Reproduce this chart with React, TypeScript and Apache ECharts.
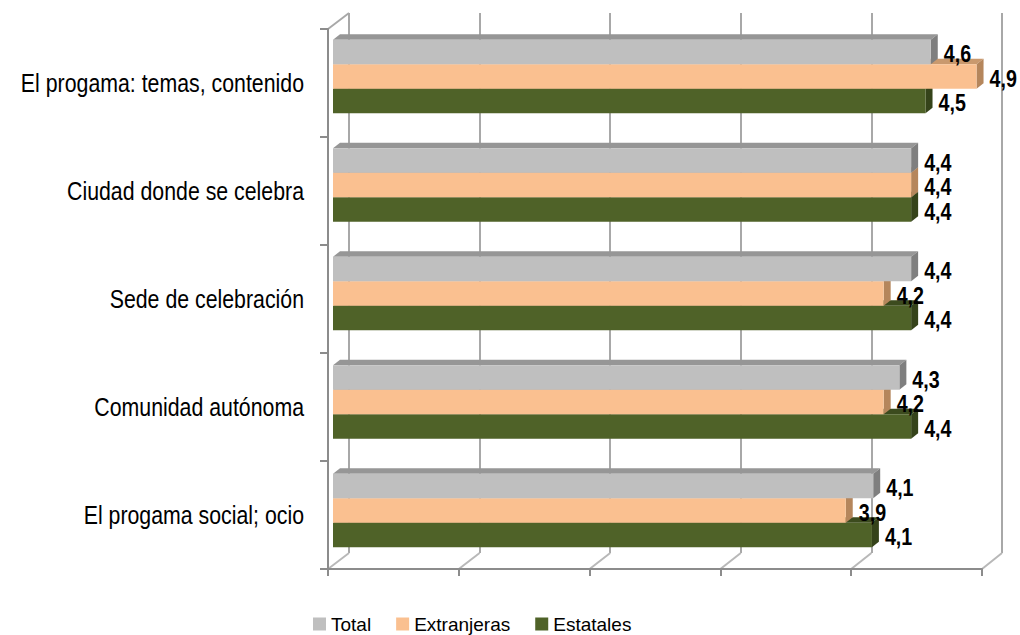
import React, { useEffect, useRef } from "react";
import * as echarts from "echarts";

const categories = [
  "El progama: temas, contenido",
  "Ciudad donde se celebra",
  "Sede de celebración",
  "Comunidad autónoma",
  "El progama social; ocio",
];
const seriesNames = ["Total", "Extranjeras", "Estatales"];
const totalValues = [4.57, 4.42, 4.42, 4.33, 4.13];
const extranjerasValues = [4.92, 4.42, 4.21, 4.21, 3.92];
const estatalesValues = [4.53, 4.42, 4.42, 4.42, 4.12];
const axisMin = 0;
const axisMax = 5;
const axisInterval = 1;

const FONT = "'Liberation Sans', Arial, sans-serif";
const CONDENSE = 0.82;

const COLORS = [
  { front: "#BFBFBF", top: "#969696", side: "#7F7F7F" },
  { front: "#FAC090", top: "#C9996E", side: "#B5865C" },
  { front: "#4F6228", top: "#3C4B1E", side: "#35431A" },
];

const DX = 7;
const DY = -5.5;
const BAR_FRAC = 0.2258;
const LABEL_GAP = 6;

const GRID_BARS = { left: 333, top: 22.25, width: 654, height: 542.5 };
const GRID_FRONT = { left: 328, top: 29, width: 654, height: 540 };
const GRID_BACK = { left: 349, top: 13, width: 653, height: 540 };

const fmt = (v: number) => v.toFixed(1).replace(".", ",");

function barRenderer(pos: number) {
  const c = COLORS[pos];
  return (params: any, api: any) => {
    const v = api.value(0);
    const cat = api.value(1);
    const p0 = api.coord([0, cat]);
    const p1 = api.coord([v, cat]);
    const band = api.size([0, 1])[1];
    const bh = band * BAR_FRAC;
    const top = p0[1] - 1.5 * bh + pos * bh;
    const x0 = p0[0];
    const x1 = p1[0];
    return {
      type: "group",
      children: [
        {
          type: "polygon",
          shape: { points: [[x0, top], [x0 + DX, top + DY], [x1 + DX, top + DY], [x1, top]] },
          style: { fill: c.top },
        },
        {
          type: "polygon",
          shape: { points: [[x1, top], [x1 + DX, top + DY], [x1 + DX, top + DY + bh], [x1, top + bh]] },
          style: { fill: c.side },
        },
        {
          type: "rect",
          shape: { x: x0, y: top, width: x1 - x0, height: bh },
          style: { fill: c.front },
        },
      ],
    };
  };
}

function labelRenderer(params: any, api: any) {
  const v = api.value(0);
  const cat = api.value(1);
  const pos = api.value(2);
  const p0 = api.coord([0, cat]);
  const p1 = api.coord([v, cat]);
  const band = api.size([0, 1])[1];
  const bh = band * BAR_FRAC;
  const top = p0[1] - 1.5 * bh + pos * bh;
  return {
    type: "text",
    x: p1[0] + DX + LABEL_GAP,
    y: top + bh / 2 + 2,
    scaleX: CONDENSE,
    style: {
      text: fmt(v),
      fill: "#000",
      fontSize: 24,
      fontWeight: "bold",
      fontFamily: FONT,
      align: "left",
      verticalAlign: "middle",
    },
  };
}

function categoryLabelRenderer(params: any, api: any) {
  const cat = api.value(1);
  const p = api.coord([0, cat]);
  return {
    type: "text",
    x: p[0] - 24,
    y: p[1],
    scaleX: CONDENSE,
    style: {
      text: categories[cat],
      fill: "#000",
      fontSize: 26,
      fontFamily: FONT,
      align: "right",
      verticalAlign: "middle",
    },
  };
}

export default function App() {
  const ref = useRef<HTMLDivElement>(null);
  useEffect(() => {
    document.body.style.margin = "0";
    if (!ref.current) return;
    const chart = echarts.init(ref.current, undefined, { renderer: "svg" });
    const valueSets = [totalValues, extranjerasValues, estatalesValues];
    const labelData: number[][] = [];
    valueSets.forEach((vals, s) => vals.forEach((v, i) => labelData.push([v, i, s])));

    const barSeries = [2, 1, 0].map((s) => ({
      type: "custom",
      name: seriesNames[s],
      xAxisIndex: 0,
      yAxisIndex: 0,
      z: 2 + (2 - s),
      itemStyle: { color: COLORS[s].front },
      encode: { x: 0, y: 1 },
      data: valueSets[s].map((v, i) => [v, i]),
      renderItem: barRenderer(s),
    }));

    const option: any = {
      animation: false,
      backgroundColor: "#fff",
      grid: [
        { ...GRID_BARS, containLabel: false, outerBoundsMode: "none" },
        { ...GRID_FRONT, containLabel: false, outerBoundsMode: "none" },
        { ...GRID_BACK, containLabel: false, outerBoundsMode: "none" },
      ],
      xAxis: [
        { gridIndex: 0, type: "value", min: axisMin, max: axisMax, interval: axisInterval, show: false },
        {
          gridIndex: 1,
          type: "value",
          min: axisMin,
          max: axisMax,
          interval: axisInterval,
          position: "bottom",
          axisLine: { show: true, lineStyle: { color: "#8C8C8C", width: 2 } },
          axisTick: { show: true, inside: false, length: 7, lineStyle: { color: "#8C8C8C", width: 2 } },
          axisLabel: { show: false },
          splitLine: { show: false },
        },
        {
          gridIndex: 2,
          type: "value",
          min: axisMin,
          max: axisMax,
          interval: axisInterval,
          axisLine: { show: false },
          axisTick: { show: false },
          axisLabel: { show: false },
          splitLine: { show: true, showMinLine: true, showMaxLine: true, lineStyle: { color: "#A8A8A8", width: 2 } },
        },
      ],
      yAxis: [
        { gridIndex: 0, type: "category", data: categories, inverse: true, show: false },
        {
          gridIndex: 1,
          type: "category",
          data: categories,
          inverse: true,
          axisLine: { show: true, lineStyle: { color: "#8C8C8C", width: 2 } },
          axisTick: { show: true, inside: false, length: 8, lineStyle: { color: "#8C8C8C", width: 2 } },
          axisLabel: { show: false },
          splitLine: { show: false },
        },
        { gridIndex: 2, type: "value", show: false },
      ],
      legend: {
        data: seriesNames,
        left: 313,
        top: 614,
        icon: "rect",
        itemWidth: 13,
        itemHeight: 13,
        itemGap: 25,
        padding: 0,
        textStyle: { fontSize: 19, lineHeight: 20, color: "#000", fontFamily: FONT },
      },
      series: [
        ...barSeries,
        {
          type: "custom",
          name: "labels",
          xAxisIndex: 0,
          yAxisIndex: 0,
          z: 10,
          encode: { x: 0, y: 1 },
          data: labelData,
          renderItem: labelRenderer,
        },
        {
          type: "custom",
          name: "categoryLabels",
          xAxisIndex: 1,
          yAxisIndex: 1,
          z: 10,
          encode: { x: 0, y: 1 },
          data: categories.map((c, i) => [axisMin, i]),
          renderItem: categoryLabelRenderer,
        },
      ],
    };
    chart.setOption(option);

    const frontBottom = GRID_FRONT.top + GRID_FRONT.height;
    const backBottom = GRID_BACK.top + GRID_BACK.height;
    const lines: any[] = [];
    for (let k = axisMin; k <= axisMax; k += axisInterval) {
      const fx = chart.convertToPixel({ xAxisIndex: 1 }, k) as number;
      const bx = chart.convertToPixel({ xAxisIndex: 2 }, k) as number;
      lines.push({
        type: "line",
        shape: { x1: fx, y1: frontBottom, x2: bx, y2: backBottom },
        style: { stroke: "#B8B8B8", lineWidth: 2 },
      });
    }
    const fx0 = chart.convertToPixel({ xAxisIndex: 1 }, axisMin) as number;
    const bx0 = chart.convertToPixel({ xAxisIndex: 2 }, axisMin) as number;
    lines.push({
      type: "line",
      shape: { x1: fx0, y1: GRID_FRONT.top, x2: bx0, y2: GRID_BACK.top },
      style: { stroke: "#A8A8A8", lineWidth: 2 },
    });
    chart.setOption({ graphic: lines });

    return () => chart.dispose();
  }, []);
  return <div ref={ref} style={{ width: 1020, height: 635 }} />;
}
